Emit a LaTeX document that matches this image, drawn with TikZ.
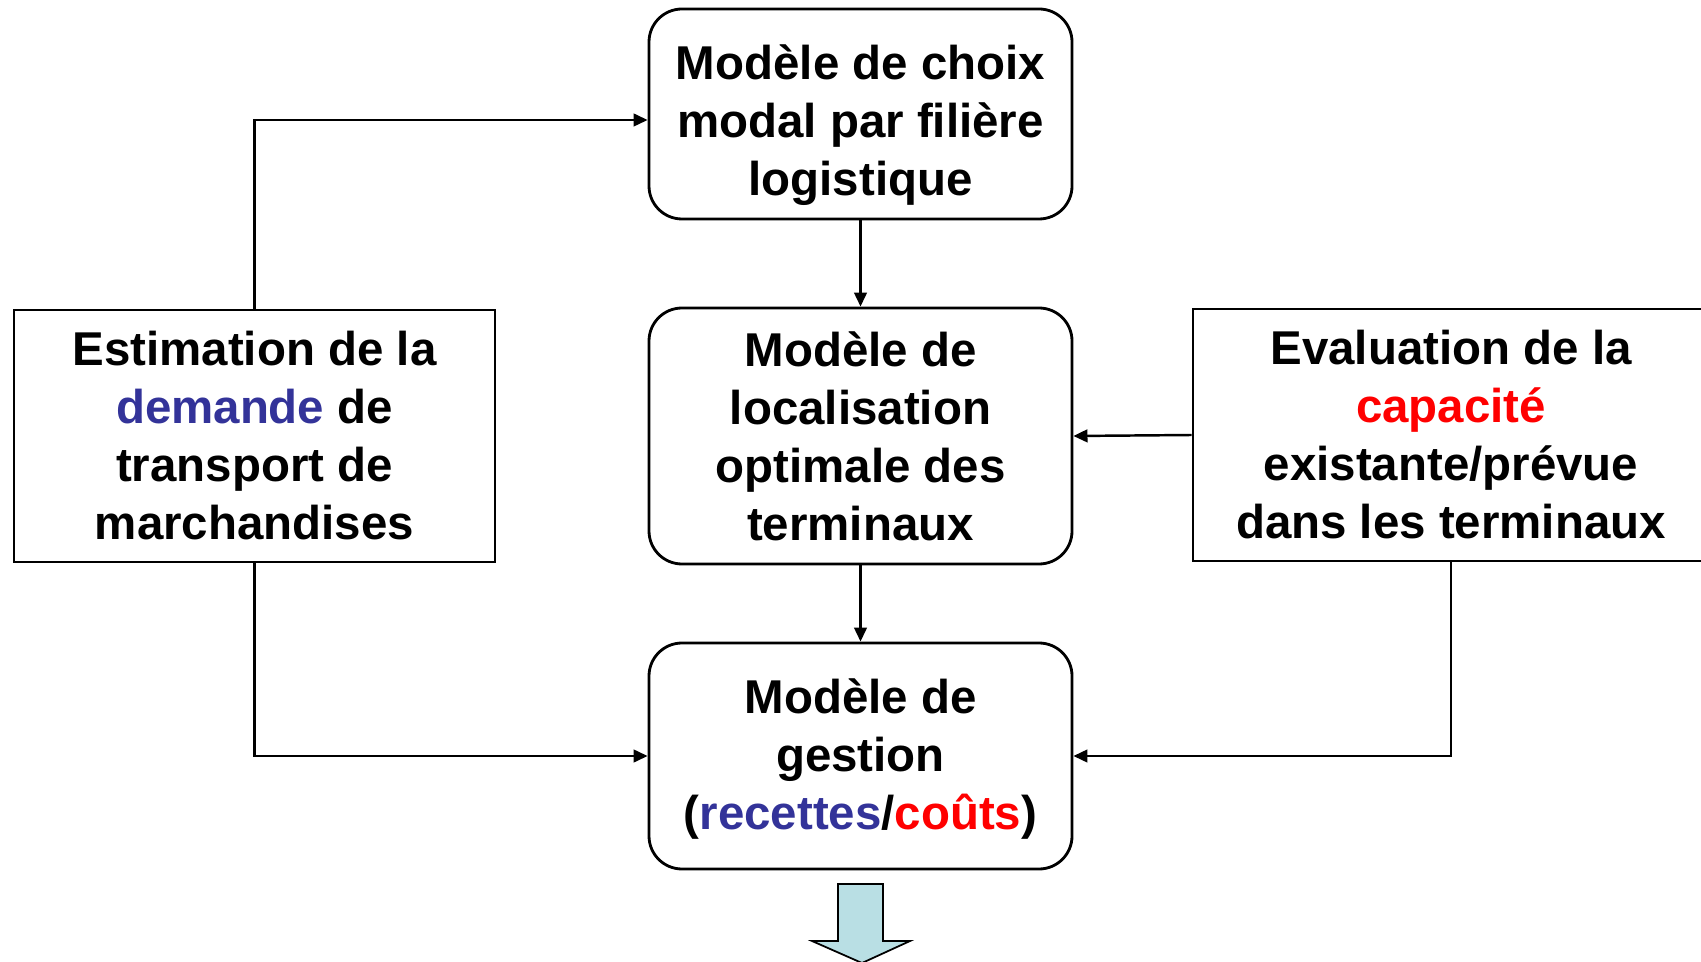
\documentclass[tikz,border=0pt]{standalone}
\usepackage{fontspec}
\setmainfont{Liberation Sans}
\usetikzlibrary{arrows.meta}
\definecolor{demblue}{RGB}{51,51,153}
\definecolor{arrowfill}{RGB}{185,223,228}
\begin{document}
\begin{tikzpicture}[
  txt/.style={align=center,font=\fontsize{13.5}{16.5}\selectfont\bfseries,inner sep=0pt},
  modele/.style={txt,draw=black,line width=0.8pt,rounded corners=0.33cm,minimum width=4.23cm},
  entree/.style={txt,draw=black,line width=0.8pt,minimum height=2.52cm},
  arr/.style={-{Triangle[length=4pt,width=3.6pt]},line width=0.7pt}]
\useasboundingbox (0,0) rectangle (17.01,9.61);
\node[modele,minimum height=2.10cm] (choix) at (8.605,8.47) {};
\node[txt] (choixtxt) at ([yshift=-0.11cm]choix.center) {Modèle de choix\\modal par filière\\logistique};
\node[modele,minimum height=2.56cm] (loc) at (8.605,5.25) {Modèle de\\localisation\\optimale des\\terminaux};
\node[modele,minimum height=2.26cm] (gest) at (8.605,2.05) {};
\node[txt] (gesttxt) at ([yshift=-0.03cm]gest.center) {Modèle de\\gestion\\(\textcolor{demblue}{recettes}/\textcolor{red}{coûts})};
\node[entree,minimum width=4.81cm] (dem) at (2.545,5.25) {Estimation de la\\\textcolor{demblue}{demande} de\\transport de\\marchandises};
\node[entree,minimum width=5.16cm] (cap) at (14.51,5.26) {Evaluation de la\\\textcolor{red}{capacité}\\existante/prévue\\dans les terminaux};
\draw[arr] (dem.north) |- ([yshift=-0.06cm]choix.west);
\draw[arr] (choix) -- (loc);
\draw[arr] (cap.west) -- (loc.east);
\draw[arr] (loc) -- (gest);
\draw[arr] (dem.south) |- (gest.west);
\draw[arr] (cap.south) |- (gest.east);
% fleche de sortie
\draw[fill=arrowfill,line width=0.5pt] (8.38,0.77) -- (8.83,0.77) -- (8.83,0.20) -- (9.10,0.20)
  -- (8.62,-0.02) -- (8.12,0.20) -- (8.38,0.20) -- cycle;
\end{tikzpicture}
\end{document}
